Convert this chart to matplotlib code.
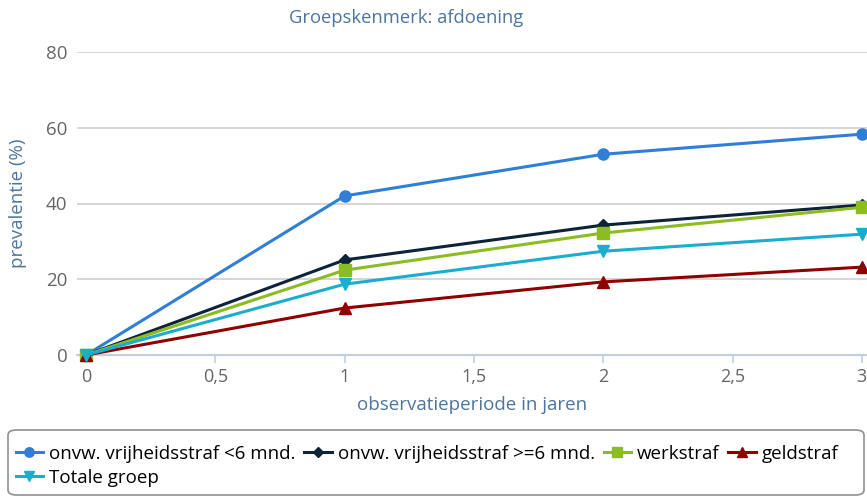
import matplotlib.pyplot as plt
from matplotlib.ticker import FuncFormatter
from matplotlib.patches import FancyBboxPatch

plt.rcParams['font.family'] = ['Open Sans', 'DejaVu Sans']

jaren = [0, 1, 2, 3]
kort = [0, 42.0, 53.0, 58.3]
lang = [0, 25.1, 34.3, 39.6]
werkstraf = [0, 22.4, 32.2, 39.0]
geldstraf = [0, 12.4, 19.3, 23.2]
totaal = [0, 18.7, 27.4, 31.9]

W, H = 867, 497
fig = plt.figure(figsize=(W/100, H/100), dpi=100)
ax = fig.add_axes([77/W, 1-355/H, 1-77/W, (355-52)/H])

lijnen = {}
lijnen['kort'], = ax.plot(jaren, kort, color='#2f7ed8', marker='o', markersize=8, lw=2.2, label='onvw. vrijheidsstraf <6 mnd.', clip_on=False, zorder=5)
lijnen['lang'], = ax.plot(jaren, lang, color='#0d233a', marker='D', markersize=6, lw=2.2, label='onvw. vrijheidsstraf >=6 mnd.', clip_on=False, zorder=5)
lijnen['werk'], = ax.plot(jaren, werkstraf, color='#8bbc21', marker='s', markersize=8, lw=2.2, label='werkstraf', clip_on=False, zorder=5)
lijnen['geld'], = ax.plot(jaren, geldstraf, color='#910000', marker='^', markersize=8, lw=2.2, label='geldstraf', clip_on=False, zorder=5)
lijnen['tot'], = ax.plot(jaren, totaal, color='#1aadce', marker='v', markersize=8, lw=2.2, label='Totale groep', clip_on=False, zorder=5)

ax.set_xlim(-0.035, 3.02)
ax.set_ylim(0, 80)
ax.set_yticks([0, 20, 40, 60, 80])
ax.set_xticks([0, 0.5, 1, 1.5, 2, 2.5, 3])
ax.xaxis.set_major_formatter(FuncFormatter(lambda v, p: ('%g' % v).replace('.', ',')))
ax.grid(axis='y', color='#d0d0d0', lw=1.2)
ax.set_axisbelow(True)
for s in ['top', 'right', 'left']:
    ax.spines[s].set_visible(False)
ax.spines['bottom'].set_color('#c0d0e0')
ax.spines['bottom'].set_linewidth(1.5)
ax.tick_params(axis='y', length=0, pad=7, labelsize=13.5, labelcolor='#666666')
ax.tick_params(axis='x', length=6, color='#c0d0e0', width=1.2, labelsize=13, labelcolor='#666666')

ax.set_xlabel('observatieperiode in jaren', color='#4d759e', fontsize=13.5, labelpad=7)
ax.set_ylabel('prevalentie (%)', color='#4d759e', fontsize=13.5)
ax.yaxis.set_label_coords((27-77)/(W-77), (355-203)/303)
fig.text(406/W, 1-18/H, 'Groepskenmerk: afdoening', color='#4d759e', fontsize=13.2, ha='center', va='center')

# legend frame
kader = FancyBboxPatch((8/W, 2/H), (864-8)/W, (495-430)/H, boxstyle='round,pad=0,rounding_size=0.01',
                       transform=fig.transFigure, facecolor='white', edgecolor='#909090', lw=1.2)
fig.patches.append(kader)

volgorde = ['kort', 'tot', 'lang', 'werk', 'geld']
handles = [lijnen[k] for k in volgorde]
leg = fig.legend(handles, [h.get_label() for h in handles],
                 ncol=4, loc='upper left', bbox_to_anchor=(12/W, 1-441/H),
                 fontsize=13.5, frameon=False, markerscale=0.85,
                 handlelength=1.45, handletextpad=0.32, columnspacing=0.48,
                 borderpad=0.2, labelspacing=0.32, borderaxespad=0)

fig.savefig('out.png', dpi=100)
